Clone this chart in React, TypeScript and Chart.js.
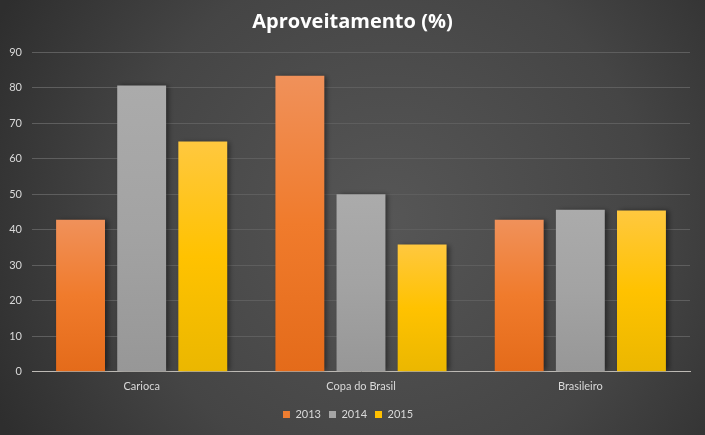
import React, { useEffect, useRef } from "react";
import { Chart, registerables } from "chart.js";

Chart.register(...registerables);

const categories = ["Carioca", "Copa do Brasil", "Brasileiro"];
const seriesLabels = ["2013", "2014", "2015"];
const values2013 = [42.8, 83.3, 42.8];
const values2014 = [80.6, 50.0, 45.6];
const values2015 = [64.8, 35.8, 45.4];
const yTicks = [0, 10, 20, 30, 40, 50, 60, 70, 80, 90];

const palettes = [
  { top: "#F0915A", mid: "#F07B2C", bottom: "#E46B1A", legend: "#ED7D31" },
  { top: "#ABABAB", mid: "#A3A3A3", bottom: "#979797", legend: "#A5A5A5" },
  { top: "#FFC83F", mid: "#FFC200", bottom: "#EBB700", legend: "#FFC000" },
];

const TEXT = "#D9D9D9";
const FONT = "Lato, 'Open Sans', sans-serif";

export default function App() {
  const ref = useRef<HTMLCanvasElement | null>(null);

  useEffect(() => {
    document.body.style.margin = "0";
    const canvas = ref.current!;
    const bgPlugin = {
      id: "bg",
      beforeDraw(chart: any) {
        const { ctx, width, height } = chart;
        ctx.save();
        const g = ctx.createRadialGradient(width * 0.55, height * 0.5, 0, width * 0.55, height * 0.5, width * 0.62);
        g.addColorStop(0, "#565656");
        g.addColorStop(0.6, "#454545");
        g.addColorStop(1, "#2E2E2E");
        ctx.fillStyle = g;
        ctx.fillRect(0, 0, width, height);
        ctx.restore();
      },
    };
    const centerTitlePlugin = {
      id: "centerTitle",
      afterLayout(chart: any) {
        if (chart.titleBlock) {
          chart.titleBlock.left = 0;
          chart.titleBlock.right = chart.width;
        }
      },
    };
    const shadowPlugin = {
      id: "barShadow",
      beforeDatasetsDraw(chart: any) {
        const ctx = chart.ctx;
        ctx.save();
        ctx.shadowColor = "rgba(0,0,0,0.45)";
        ctx.shadowOffsetX = 3;
        ctx.shadowOffsetY = 0;
        ctx.shadowBlur = 5;
      },
      afterDatasetsDraw(chart: any) {
        chart.ctx.restore();
      },
    };

    const makeBg = (pi: number) => (context: any) => {
      const chart = context.chart;
      const p = palettes[pi];
      if (!chart.chartArea || context.type !== "data") return p.legend;
      const y = chart.scales.y;
      const v = context.parsed ? context.parsed.y : context.raw;
      const top = y.getPixelForValue(v);
      const bottom = y.getPixelForValue(0);
      if (!isFinite(top) || !isFinite(bottom) || top === bottom) return p.legend;
      const g = chart.ctx.createLinearGradient(0, top, 0, bottom);
      g.addColorStop(0, p.top);
      g.addColorStop(0.5, p.mid);
      g.addColorStop(1, p.bottom);
      return g;
    };

    const data = [values2013, values2014, values2015];
    const chart = new Chart(canvas, {
      type: "bar",
      data: {
        labels: categories,
        datasets: seriesLabels.map((l, i) => ({
          label: l,
          data: data[i],
          backgroundColor: makeBg(i),
          borderWidth: 0,
          categoryPercentage: 0.836,
          barPercentage: 0.8,
        })),
      },
      options: {
        animation: false,
        responsive: false,
        maintainAspectRatio: false,
        layout: { padding: { left: 6, right: 15, top: 0, bottom: 5 } },
        plugins: {
          title: {
            display: true,
            text: "Aproveitamento (%)",
            color: "#FFFFFF",
            font: { family: "'Open Sans', sans-serif", size: 20, weight: "bold" },
            padding: { top: 10, bottom: 18 },
          },
          legend: {
            position: "bottom",
            labels: {
              color: TEXT,
              font: { family: FONT, size: 11 },
              boxWidth: 7,
              boxHeight: 7,
              padding: 8,
              generateLabels: (chart: any) =>
                seriesLabels.map((l, i) => ({
                  text: l,
                  fillStyle: palettes[i].legend,
                  strokeStyle: palettes[i].legend,
                  lineWidth: 0,
                  fontColor: TEXT,
                  datasetIndex: i,
                  hidden: false,
                })),
            },
          },
          tooltip: { enabled: false },
        },
        scales: {
          x: {
            grid: { display: false, drawTicks: false },
            border: { display: true, color: "#BDBAB5", width: 1 },
            ticks: { color: TEXT, font: { family: FONT, size: 11 }, padding: 8 },
          },
          y: {
            min: 0,
            max: 90,
            afterBuildTicks: (axis: any) => {
              axis.ticks = yTicks.map((v) => ({ value: v }));
            },
            afterFit: (axis: any) => {
              axis.width = 26;
            },
            grid: {
              color: (c: any) => (c.tick && c.tick.value === 0 ? "rgba(0,0,0,0)" : "#5E5E5E"),
              drawTicks: false,
            },
            border: { display: false },
            ticks: { color: TEXT, font: { family: FONT, size: 11 }, padding: 10 },
          },
        },
      },
      plugins: [bgPlugin, centerTitlePlugin, shadowPlugin],
    } as any);
    return () => chart.destroy();
  }, []);

  return (
    <div style={{ position: "fixed", left: 0, top: 0, width: 705, height: 435 }}>
      <canvas ref={ref} width={705} height={435} style={{ width: 705, height: 435, display: "block" }} />
    </div>
  );
}
